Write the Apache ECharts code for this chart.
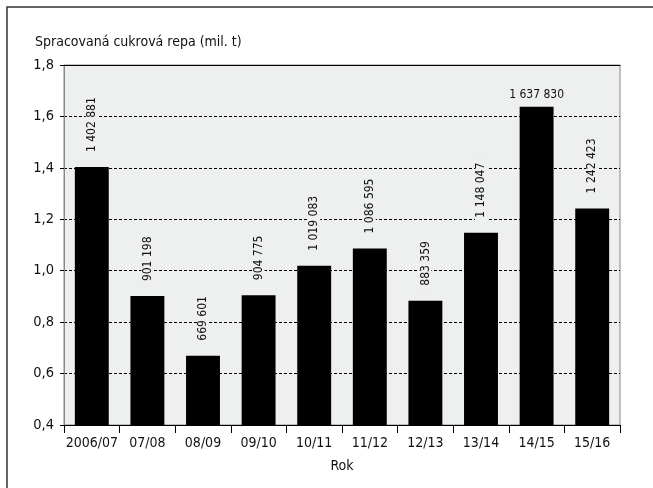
<!DOCTYPE html>
<html>
<head>
<meta charset="utf-8">
<script src="https://cdn.jsdelivr.net/npm/echarts@6/dist/echarts.min.js"></script>
<style>
html,body{margin:0;padding:0;background:#fff;}
#chart{width:653px;height:488px;}
</style>
</head>
<body>
<div id="chart"></div>
<script>
var categories = ['2006/07','07/08','08/09','09/10','10/11','11/12','12/13','13/14','14/15','15/16'];
var valuesTonnes = [1402881, 901198, 669601, 904775, 1019083, 1086595, 883359, 1148047, 1637830, 1242423];
var yTicks = [0.4, 0.6, 0.8, 1.0, 1.2, 1.4, 1.6, 1.8];

var FONT = "'DejaVu Sans Condensed', 'Liberation Sans Narrow', 'Liberation Sans', sans-serif";
var BG = '#eeefef';

function fmt(v){ return String(v).replace(/\B(?=(\d{3})+(?!\d))/g, ' '); }

var yMin = yTicks[0], yMax = yTicks[yTicks.length-1];

var seriesData = valuesTonnes.map(function(v){
  var val = v / 1e6;
  var item = { value: val, raw: v };
  if (val > yMax - 0.25) {
    item.label = { rotate: 0, align: 'center', verticalAlign: 'bottom', distance: 6, backgroundColor: 'transparent' };
  }
  return item;
});

var chart = echarts.init(document.getElementById('chart'), null, {renderer: 'canvas'});
chart.setOption({
  animation: false,
  backgroundColor: '#fff',
  textStyle: { fontFamily: FONT },
  title: {
    text: 'Spracovaná cukrová repa (mil. t)',
    left: 35, top: 35, padding: 0,
    textStyle: { fontFamily: FONT, fontSize: 14, fontWeight: 'normal', color: '#111' }
  },
  graphic: [{
    type: 'rect', silent: true, z: -1,
    shape: { x: 7, y: 7, width: 700, height: 520 },
    style: { fill: 'none', stroke: '#333', lineWidth: 1.5 }
  }],
  grid: {
    left: 64, right: 33, top: 65, bottom: 63,
    show: true, backgroundColor: BG, borderColor: '#888', borderWidth: 1
  },
  xAxis: [{
    type: 'category', data: categories,
    axisLine: { lineStyle: { color: '#000', width: 1 } },
    axisTick: { show: true, length: 8, lineStyle: { color: '#000' } },
    axisLabel: { color: '#111', fontSize: 14, fontFamily: FONT, margin: 11, interval: 0 },
    name: 'Rok', nameLocation: 'middle', nameGap: 34,
    nameTextStyle: { color: '#111', fontSize: 14, fontFamily: FONT }
  }, {
    type: 'category', data: categories, position: 'top',
    axisLine: { show: true, lineStyle: { color: '#000', width: 1 } },
    axisTick: { show: false }, axisLabel: { show: false }
  }],
  yAxis: {
    type: 'value', min: yMin, max: yMax, interval: 0.2,
    axisLine: { show: true, lineStyle: { color: '#888', width: 1 } },
    axisTick: { show: true, length: 4, lineStyle: { color: '#000' } },
    axisLabel: {
      color: '#111', fontSize: 14.5, fontFamily: FONT, margin: 10,
      formatter: function(v){ return v.toFixed(1).replace('.', ','); }
    },
    splitLine: { show: true, showMinLine: false, showMaxLine: false, lineStyle: { color: '#000', type: [3, 2], width: 1 } }
  },
  series: [{
    type: 'bar',
    data: seriesData,
    barWidth: '61%',
    itemStyle: { color: '#000' },
    label: {
      show: true, position: 'top', rotate: 90, align: 'left', verticalAlign: 'middle',
      distance: 12, fontSize: 12, fontFamily: FONT, color: '#111',
      backgroundColor: BG, padding: [0, 3],
      formatter: function(p){ return fmt(p.data.raw); }
    }
  }]
});
</script>
</body>
</html>
